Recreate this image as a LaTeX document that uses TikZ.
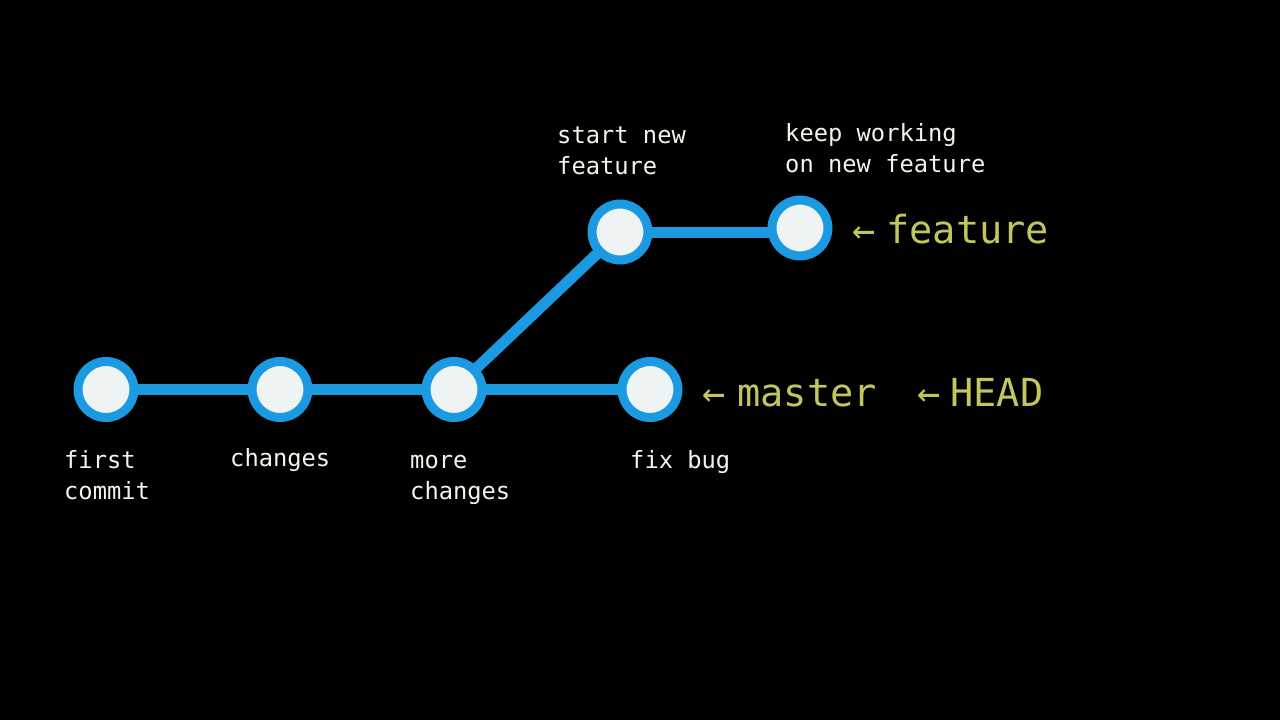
\documentclass[tikz,border=0pt]{standalone}
\usepackage{fontspec}
\newfontfamily\codefont{DejaVu Sans Mono}
\definecolor{gitblue}{HTML}{1B9AE1}
\definecolor{commitfill}{HTML}{EEF4F4}
\definecolor{txt}{HTML}{F4F4EC}
\definecolor{reflbl}{HTML}{C3C65C}
\pgfdeclarelayer{bglayer}
\pgfdeclarelayer{edgelayer}
\pgfsetlayers{bglayer,edgelayer,main}
\begin{document}
\begin{tikzpicture}[x=1pt,y=-1pt,
  commit/.style={circle, draw=gitblue, line width=9pt, fill=commitfill, minimum size=56pt, inner sep=0pt},
  edge/.style={draw=gitblue, line width=11pt},
  msg/.style={anchor=base west, inner sep=0pt, text=txt, font=\codefont\fontsize{23.75}{31}\selectfont},
  ref/.style={anchor=base west, inner sep=0pt, text=reflbl, font=\codefont\fontsize{38.6}{46}\selectfont}]
\begin{pgfonlayer}{bglayer}
  \fill[black] (0,0) rectangle (1280,720);
\end{pgfonlayer}
\useasboundingbox (0,0) rectangle (1280,720);

% commits
\node[commit] (c1) at (106,389.5) {};
\node[commit] (c2) at (280,389.5) {};
\node[commit] (c3) at (454,389.5) {};
\node[commit] (c4) at (650,389.5) {};
\node[commit] (c5) at (620,232) {};
\node[commit] (c6) at (800,228) {};

% connectors
\begin{pgfonlayer}{edgelayer}
  \draw[edge] (c1.center) -- (c2.center);
  \draw[edge] (c2.center) -- (c3.center);
  \draw[edge] (c3.center) -- (c4.center);
  \draw[edge] (c3.center) -- (c5.center);
  \draw[edge] ([yshift=-0.5pt]c5.center) -- ([yshift=-0.5pt]c5.center -| c6.center);
\end{pgfonlayer}

% commit messages
\node[msg] (m1a) at (64,468) {first};
\node[msg] (m1b) at (64,499) {commit};
\node[msg] (m2) at (230,466) {changes};
\node[msg] (m3a) at (410,468) {more};
\node[msg] (m3b) at (410,499) {changes};
\node[msg] (m4) at (630,468) {fix bug};
\node[msg] (m5a) at (557,143) {start new};
\node[msg] (m5b) at (557,174) {feature};
\node[msg] (m6a) at (785,141) {keep working};
\node[msg] (m6b) at (785,172) {on new feature};

% refs
\node[ref] (rfeature) at (852,243) {←\kern11pt feature};
\node[ref] (rmaster) at (702,406) {←\kern12pt master};
\node[ref] (rhead) at (917,406) {←\kern10pt HEAD};
\end{tikzpicture}
\end{document}
